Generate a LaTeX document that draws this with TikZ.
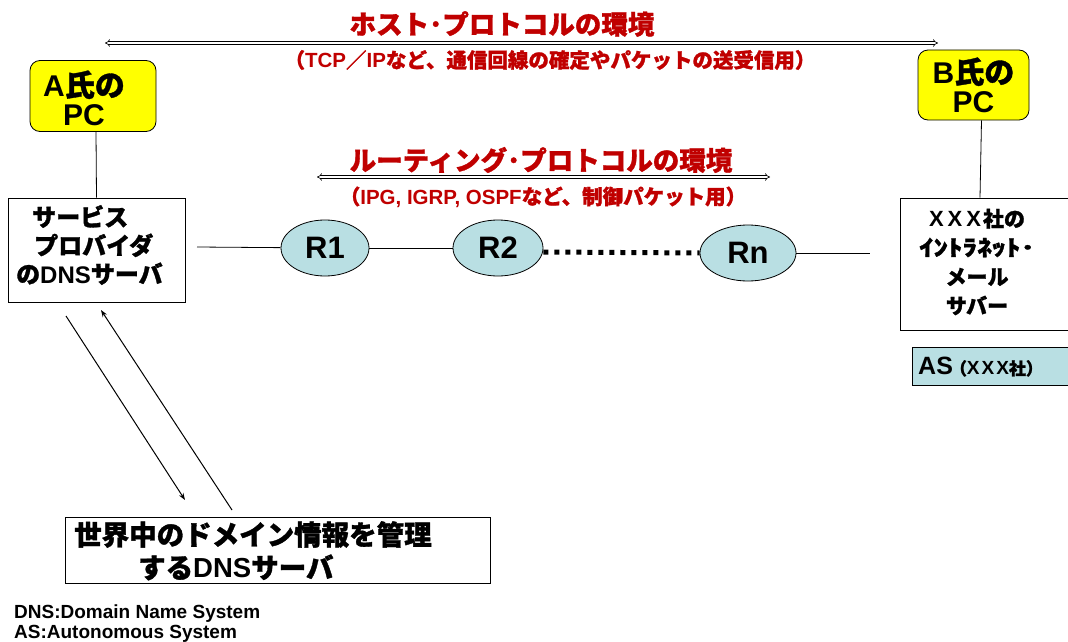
\documentclass[tikz,border=0pt]{standalone}
\usepackage{fontspec}
\setmainfont{Noto Sans CJK JP}[BoldFeatures={FakeBold=1.2}]
\newfontfamily\latf{Liberation Sans}[UprightFont={* Bold},BoldFont={* Bold}]
\newcommand{\LT}[1]{{\latf #1}}
\usetikzlibrary{arrows.meta,shapes.geometric}
\definecolor{ttred}{RGB}{192,0,0}
\definecolor{pcyellow}{RGB}{255,255,0}
\definecolor{rtblue}{RGB}{185,223,227}
\begin{document}
\begin{tikzpicture}[x=1pt,y=-1pt,
  redtitle/.style={text=ttred,font=\bfseries\fontsize{26.5}{28}\selectfont,inner sep=0pt},
  redsub/.style={text=ttred,font=\bfseries\fontsize{20.5}{22}\selectfont,inner sep=0pt},
  dblarrow/.style={double,double distance=2pt,line width=0.6pt,{Implies[length=4pt]}-{Implies[length=4pt]}},
  pcbox/.style={draw,line width=0.8pt,fill=pcyellow,rounded corners=10pt,align=center,
    font=\bfseries\fontsize{30}{29}\selectfont,inner sep=0pt},
  plainbox/.style={draw,line width=0.8pt,fill=white,inner sep=0pt},
  router/.style={ellipse,draw,line width=0.8pt,fill=rtblue,inner sep=0pt,
    font=\bfseries\fontsize{31}{32}\selectfont},
  link/.style={line width=0.8pt},
  dnsarrow/.style={line width=1pt,-{Stealth[length=7pt,width=5pt]}},
  legend/.style={anchor=west,font=\latf\fontsize{19}{20}\selectfont,inner sep=0pt}
]
\useasboundingbox (0,0) rectangle (1068,642);
\fill[white] (0,0) rectangle (1068,642);
\clip (0,0) rectangle (1068,642);

% host protocol
\node[redtitle] (host) at (502,24) {ホスト･プロトコルの環境};
\coordinate (hl) at (105,43);
\coordinate (hr) at (938,43);
\draw[dblarrow] (hl) -- (hr);
\node[redsub] (hostsub) at (550,60) {（\LT{TCP}／\LT{IP}など、通信回線の確定やパケットの送受信用）};

% PCs
\node[pcbox,minimum width=126pt,minimum height=71pt] (apc) at (93,96) {};
\node[inner sep=0pt,align=center,font=\bfseries\fontsize{30}{29}\selectfont] (apctext) at (84,98) {\LT{A}氏の\\\LT{PC}};
\node[pcbox,minimum width=111pt,minimum height=70pt] (bpc) at (973.5,85) {\LT{B}氏の\\\LT{PC}};

% servers
\node[plainbox,minimum width=177pt,minimum height=104pt] (svc) at (96.5,250) {};
\node[anchor=west,inner sep=0pt,align=left,font=\bfseries\fontsize{24}{28.5}\selectfont] (svctext) at (16,245)
  {\hspace*{16pt}サービス\\\hspace*{18pt}プロバイダ\\の\LT{DNS}サーバ};
\node[plainbox,minimum width=180pt,minimum height=132pt] (xxx) at (990,264) {};
\node[inner sep=0pt,align=center,font=\bfseries\fontsize{21}{29}\selectfont] (xxxtext) at (977,262)
  {{\latf\fontsize{22}{29}\selectfont X\kern4pt X\kern4pt X}\kern2pt社の\\\scalebox{1.38}[1.05]{ｲﾝﾄﾗﾈｯﾄ･}\\メール\\サバー};
\node[draw,line width=0.8pt,fill=rtblue,minimum width=168pt,minimum height=38pt,
  inner sep=0pt] (as) at (996,366) {};
\node[anchor=west,inner sep=0pt,font=\bfseries\fontsize{25}{26}\selectfont] (astext) at (918,367)
  {\LT{AS}{\fontsize{17}{20}\selectfont\kern-3pt（{\latf\fontsize{19}{20}\selectfont X\kern2pt X\kern2pt X}社）}};

\draw[link] (apc.south) ++(3,0) coordinate (apcb) -- (svc.north);
\draw[link] (bpc.south) ++(8,0) coordinate (bpcb) -- (xxx.north -| 980,0);

% routing protocol
\node[redtitle] (route) at (541,160) {ルーティング･プロトコルの環境};
\coordinate (rl) at (317,177);
\coordinate (rr) at (770,177);
\draw[dblarrow] (rl) -- (rr);
\node[redsub] (routesub) at (543,197) {（\LT{IPG, IGRP, OSPF}など、制御パケット用）};

% routers
\node[router,minimum width=88pt,minimum height=56pt] (r1) at (325,248) {\LT{R1}};
\node[router,minimum width=90pt,minimum height=56pt] (r2) at (498,248) {\LT{R2}};
\node[router,minimum width=96pt,minimum height=56pt] (rn) at (748,253) {\LT{Rn}};
\coordinate (svcl) at (197,247);
\coordinate (xxxl) at (870,253);
\draw[link] (svcl) -- (r1);
\draw[link] (r1) -- (r2);
\draw[line width=5pt,dash pattern=on 5pt off 6pt] (r2.east |- 0,252) -- (rn.west);
\draw[link] (rn) -- (xxxl);

% root DNS
\node[plainbox,minimum width=425pt,minimum height=66pt] (root) at (277.5,550) {};
\node[anchor=north west,inner sep=0pt,align=left,
  font=\bfseries\fontsize{27.5}{33}\selectfont] (roottext) at (74,521)
  {世界中のドメイン情報を管理\\\hspace*{64pt}する\LT{DNS}サーバ};

\coordinate (q1) at (66,316);
\coordinate (q2) at (185,500);
\coordinate (p1) at (232,510);
\coordinate (p2) at (101,310);
\draw[dnsarrow] (q1) -- (q2);
\draw[dnsarrow] (p1) -- (p2);

% legend
\node[legend] (l1) at (14,614) {DNS:Domain Name System};
\node[legend] (l2) at (14,634) {AS:Autonomous System};
\end{tikzpicture}
\end{document}
